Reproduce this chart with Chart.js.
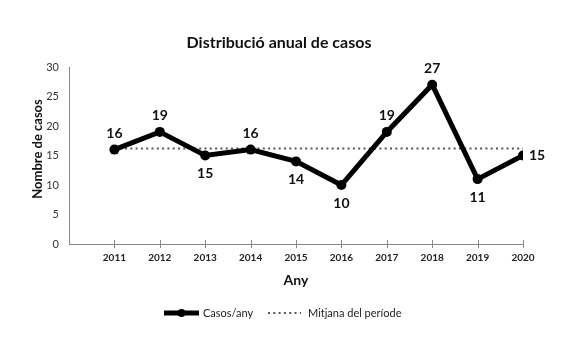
<!DOCTYPE html>
<html>
<head>
<meta charset="utf-8">
<script src="https://cdn.jsdelivr.net/npm/chart.js@4.4.1/dist/chart.umd.min.js"></script>
<style>
  html, body { margin: 0; padding: 0; background: #fff; }
</style>
</head>
<body>
<canvas id="chart" width="567" height="337"></canvas>
<script>
// data
const years = [2011, 2012, 2013, 2014, 2015, 2016, 2017, 2018, 2019, 2020];
const cases = [16, 19, 15, 16, 14, 10, 19, 27, 11, 15];
const periodMean = [16.2, 16.2, 16.2, 16.2, 16.2, 16.2, 16.2, 16.2, 16.2, 16.2];
const labelSide = ["above", "above", "below", "above", "below", "below", "above", "above", "below", "right"];

const FONT = "Lato, 'Open Sans', sans-serif";

// titles, data labels, legend and the crossing x tick marks
const extras = {
  id: "extras",
  afterDatasetsDraw(chart) {
    const ctx = chart.ctx;
    const meta = chart.getDatasetMeta(0);
    ctx.save();
    ctx.fillStyle = "#111";
    ctx.font = "bold 14px " + FONT;
    ctx.textAlign = "center";
    ctx.textBaseline = "middle";
    meta.data.forEach((pt, i) => {
      let x = pt.x, y = pt.y;
      if (labelSide[i] === "above") y -= 16;
      else if (labelSide[i] === "below") y += 18;
      else x += 14;
      ctx.fillText(String(cases[i]), x, y);
    });
    ctx.restore();
  },
  afterDraw(chart) {
    const ctx = chart.ctx;
    const xs = chart.scales.x;
    const area = chart.chartArea;
    ctx.save();

    // x tick marks crossing the axis
    ctx.strokeStyle = "#888";
    ctx.lineWidth = 1;
    years.forEach(yr => {
      const px = Math.round(xs.getPixelForValue(yr)) + 0.5;
      ctx.beginPath();
      ctx.moveTo(px, area.bottom - 4);
      ctx.lineTo(px, area.bottom + 4);
      ctx.stroke();
    });

    // chart title
    ctx.fillStyle = "#111";
    ctx.textAlign = "center";
    ctx.textBaseline = "middle";
    ctx.font = "bold 16px " + FONT;
    ctx.fillText("Distribució anual de casos", 279, 43);

    // axis titles
    ctx.font = "bold 14px " + FONT;
    ctx.fillText("Any", (area.left + area.right) / 2, 280);
    ctx.font = "bold 13px " + FONT;
    ctx.save();
    ctx.translate(37.5, 149);
    ctx.rotate(-Math.PI / 2);
    ctx.fillText("Nombre de casos", 0, 0);
    ctx.restore();

    // legend
    const ly = 313;
    ctx.strokeStyle = "#000";
    ctx.lineWidth = 5;
    ctx.beginPath();
    ctx.moveTo(164, ly);
    ctx.lineTo(199, ly);
    ctx.stroke();
    ctx.beginPath();
    ctx.arc(181.5, ly, 4, 0, Math.PI * 2);
    ctx.fillStyle = "#000";
    ctx.fill();

    ctx.strokeStyle = "#555";
    ctx.lineWidth = 2;
    ctx.setLineDash([2, 3.3]);
    ctx.beginPath();
    ctx.moveTo(268, ly);
    ctx.lineTo(301, ly);
    ctx.stroke();
    ctx.setLineDash([]);

    ctx.fillStyle = "#222";
    ctx.font = "11px " + FONT;
    ctx.textAlign = "left";
    ctx.fillText("Casos/any", 203, ly);
    ctx.fillText("Mitjana del període", 308, ly);
    ctx.restore();
  }
};

new Chart(document.getElementById("chart"), {
  type: "line",
  data: {
    datasets: [
      {
        label: "Casos/any",
        data: years.map((y, i) => ({ x: y, y: cases[i] })),
        borderColor: "#000",
        backgroundColor: "#000",
        borderWidth: 5,
        pointRadius: 5,
        pointBackgroundColor: "#000",
        pointBorderWidth: 0,
        tension: 0
      },
      {
        label: "Mitjana del període",
        data: years.map((y, i) => ({ x: y, y: periodMean[i] })),
        borderColor: "#555",
        borderWidth: 2,
        borderDash: [2, 3.3],
        pointRadius: 0,
        tension: 0
      }
    ]
  },
  options: {
    responsive: false,
    animation: false,
    layout: { padding: { left: 0, right: 44, top: 67, bottom: 0 } },
    plugins: {
      legend: { display: false },
      title: { display: false },
      tooltip: { enabled: false }
    },
    scales: {
      x: {
        type: "linear",
        min: 2010,
        max: 2020,
        afterFit(scale) { scale.height = 93; },
        grid: { display: false, drawTicks: false },
        border: { color: "#888", width: 1 },
        ticks: {
          stepSize: 1,
          padding: 8,
          color: "#222",
          font: { family: FONT, size: 10, weight: "bold" },
          maxRotation: 0,
          callback: v => (v === 2010 ? "" : String(v))
        }
      },
      y: {
        min: 0,
        max: 30,
        afterFit(scale) { scale.width = 69; },
        grid: { display: false, drawTicks: false },
        border: { color: "#888", width: 1 },
        ticks: {
          stepSize: 5,
          padding: 10,
          color: "#333",
          font: { family: FONT, size: 11 }
        }
      }
    }
  },
  plugins: [extras]
});
</script>
</body>
</html>
